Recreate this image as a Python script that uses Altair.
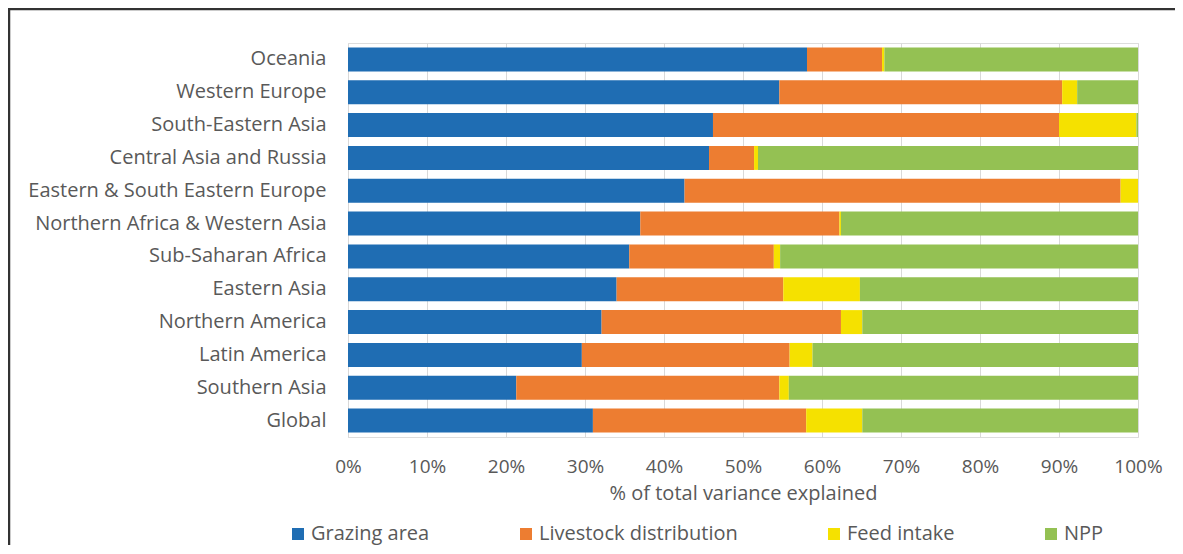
import altair as alt
import pandas as pd

regions = ["Oceania", "Western Europe", "South-Eastern Asia", "Central Asia and Russia",
           "Eastern & South Eastern Europe", "Northern Africa & Western Asia",
           "Sub-Saharan Africa", "Eastern Asia", "Northern America", "Latin America",
           "Southern Asia", "Global"]
series = ["Grazing area", "Livestock distribution", "Feed intake", "NPP"]
grazing = [58.1, 54.6, 46.2, 45.7, 42.6, 37.0, 35.6, 34.0, 32.1, 29.6, 21.3, 31.0]
livestock = [9.5, 35.8, 43.8, 5.7, 55.2, 25.2, 18.3, 21.1, 30.3, 26.3, 33.3, 27.0]
feed = [0.3, 1.9, 9.8, 0.5, 2.2, 0.2, 0.8, 9.7, 2.7, 2.9, 1.2, 7.1]
npp = [32.1, 7.7, 0.2, 48.1, 0.0, 37.6, 45.3, 35.2, 34.9, 41.2, 44.2, 34.9]
colors = ["#1f6db3", "#ed7d31", "#f5e100", "#94c153"]

rows = []
for vals, s_idx in zip([grazing, livestock, feed, npp], range(4)):
    for r, v in zip(regions, vals):
        rows.append({"region": r, "series": series[s_idx], "order": s_idx, "value": v})
df = pd.DataFrame(rows)

FONT = "Open Sans"
GREY = "#595959"

bars = alt.Chart(df).mark_bar().encode(
    y=alt.Y("region:N", sort=regions,
            scale=alt.Scale(paddingInner=0.27, paddingOuter=0.135),
            axis=alt.Axis(title=None, ticks=False, labelPadding=22, labelFontSize=20,
                          labelColor=GREY, labelFont=FONT, domainColor="#d9d9d9",
                          grid=False, labelLimit=400)),
    x=alt.X("value:Q", stack="zero",
            scale=alt.Scale(domain=[0, 100], nice=False),
            axis=alt.Axis(title="% of total variance explained", values=list(range(0, 101, 10)),
                          labelExpr="datum.value + '%'", labelFontSize=19, labelColor=GREY,
                          labelFont=FONT, labelPadding=20, labelFlush=False, ticks=False,
                          domain=False, gridColor="#d9d9d9", titleFontSize=20, titleFont=FONT,
                          titleColor=GREY, titleFontWeight="normal", titlePadding=7)),
    color=alt.Color("series:N", sort=series,
                    scale=alt.Scale(domain=series, range=colors),
                    legend=alt.Legend(title=None, orient="none", direction="horizontal",
                                      legendX=-60, legendY=481, symbolType="square",
                                      symbolSize=144, symbolStrokeWidth=0,
                                      labelFontSize=20, labelFont=FONT, labelColor=GREY,
                                      labelOffset=3, columnPadding=86, padding=0,
                                      labelLimit=400)),
    order=alt.Order("order:Q"),
)

one = pd.DataFrame({"a": [0]})
frame_left = alt.Chart(one).mark_rule(color="#333333", strokeWidth=2.5).encode(
    x=alt.value(-339), y=alt.value(-34), y2=alt.value(600))
frame_top = alt.Chart(one).mark_rule(color="#333333", strokeWidth=2.5).encode(
    x=alt.value(-340), x2=alt.value(1000), y=alt.value(-34))

chart = alt.layer(bars, frame_left, frame_top).properties(
    width=790, height=394,
    autosize=alt.AutoSizeParams(type="none"),
    padding={"left": 340, "top": 35, "right": 37, "bottom": 108},
).configure_view(stroke=None).configure(background="white")

chart.save("out.html", embed_options={"renderer": "svg", "actions": False})
